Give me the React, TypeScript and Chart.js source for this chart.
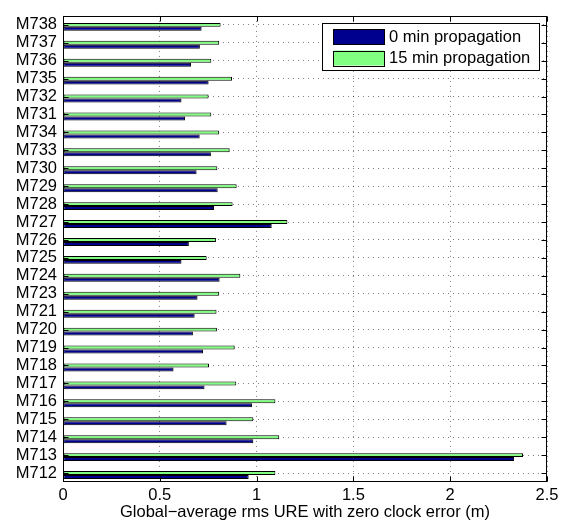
import { useEffect, useRef } from 'react';
import { Chart, registerables } from 'chart.js';

Chart.register(...registerables);

// Categories listed from top to bottom as in the figure
const categories = [
  'M738', 'M737', 'M736', 'M735', 'M732', 'M731', 'M734', 'M733', 'M730',
  'M729', 'M728', 'M727', 'M726', 'M725', 'M724', 'M723', 'M721', 'M720',
  'M719', 'M718', 'M717', 'M716', 'M715', 'M714', 'M713', 'M712',
];

// 0 min propagation (dark blue)
const prop0 = [
  0.716, 0.707, 0.661, 0.752, 0.612, 0.630, 0.706, 0.764, 0.690,
  0.799, 0.780, 1.078, 0.650, 0.612, 0.809, 0.695, 0.680, 0.671,
  0.723, 0.571, 0.731, 0.976, 0.845, 0.983, 2.330, 0.959,
];

// 15 min propagation (light green)
const prop15 = [
  0.814, 0.807, 0.766, 0.873, 0.752, 0.766, 0.807, 0.861, 0.797,
  0.897, 0.876, 1.159, 0.790, 0.742, 0.916, 0.807, 0.793, 0.795,
  0.887, 0.754, 0.895, 1.097, 0.983, 1.117, 2.376, 1.097,
];

// empty slot that keeps the group placement like MATLAB's barh
const spacer = categories.map(() => null);

const xTicks = [0, 0.5, 1, 1.5, 2, 2.5];
const seriesNames = ['0 min propagation', '15 min propagation'];
const seriesColors = ['#00008F', '#80FF80'];
const xTitle = 'Global\u2212average rms URE with zero clock error (m)';

const FONT = '"Liberation Sans", Arial, sans-serif';
const FSIZE = 16.5;

const matlabAxes = {
  id: 'matlabAxes',
  afterDraw(chart: any) {
    const { ctx, chartArea: a, scales } = chart;
    const xs = scales.x;
    const ys = scales.y;
    const L = Math.round(a.left) + 0.5;
    const R = Math.round(a.right) - 0.5;
    const T = Math.round(a.top) + 0.5;
    const B = Math.round(a.bottom) - 0.5;
    ctx.save();
    ctx.strokeStyle = '#000';
    ctx.lineWidth = 1;
    ctx.setLineDash([]);
    ctx.strokeRect(L, T, R - L, B - T);
    ctx.beginPath();
    xTicks.forEach((v) => {
      const px = Math.round(xs.getPixelForValue(v)) + 0.5;
      ctx.moveTo(px, T);
      ctx.lineTo(px, T + 5);
      ctx.moveTo(px, B);
      ctx.lineTo(px, B - 5);
    });
    categories.forEach((_c, i) => {
      const py = Math.round(ys.getPixelForValue(i)) + 0.5;
      ctx.moveTo(L, py);
      ctx.lineTo(L + 5, py);
      ctx.moveTo(R, py);
      ctx.lineTo(R - 5, py);
    });
    ctx.stroke();

    // legend box inside the axes (top right)
    const boxR = Math.round(a.right) - 8;
    const boxW = 217;
    const boxH = 47;
    const boxL = boxR - boxW;
    const boxT = Math.round(a.top) + 7;
    ctx.fillStyle = '#fff';
    ctx.fillRect(boxL + 0.5, boxT + 0.5, boxW, boxH);
    ctx.strokeRect(boxL + 0.5, boxT + 0.5, boxW, boxH);
    ctx.font = `${FSIZE}px ${FONT}`;
    ctx.textBaseline = 'middle';
    ctx.textAlign = 'left';
    seriesNames.forEach((name, i) => {
      const sy = boxT + 6 + i * 21.5;
      ctx.fillStyle = seriesColors[i];
      ctx.fillRect(boxL + 11, sy, 51, 15);
      ctx.strokeRect(boxL + 11.5, Math.round(sy) + 0.5, 51, 15);
      ctx.fillStyle = '#000';
      ctx.fillText(name, boxL + 67, sy + 8);
    });
    ctx.restore();
  },
};

export default function App() {
  const ref = useRef<HTMLCanvasElement | null>(null);

  useEffect(() => {
    document.body.style.margin = '0';
    const canvas = ref.current;
    if (!canvas) return;
    const chart = new Chart(canvas, {
      type: 'bar',
      data: {
        labels: categories,
        datasets: [
          {
            label: '',
            data: spacer,
            backgroundColor: 'rgba(0,0,0,0)',
            borderWidth: 0,
          },
          {
            label: seriesNames[1],
            data: prop15,
            backgroundColor: seriesColors[1],
            borderColor: '#000',
            borderWidth: 1,
            borderSkipped: false,
          },
          {
            label: seriesNames[0],
            data: prop0,
            backgroundColor: seriesColors[0],
            borderColor: '#000',
            borderWidth: 1,
            borderSkipped: false,
          },
        ] as any,
      },
      options: {
        indexAxis: 'y',
        responsive: false,
        animation: false,
        devicePixelRatio: 1,
        datasets: {
          bar: {
            categoryPercentage: 0.664,
            barPercentage: 1,
          },
        } as any,
        layout: {
          padding: { top: 12, right: 22, left: 0, bottom: 0 },
        },
        font: { family: FONT, size: FSIZE } as any,
        plugins: {
          legend: { display: false },
          tooltip: { enabled: false },
          title: { display: false },
        },
        scales: {
          x: {
            type: 'linear',
            min: 0,
            max: 2.5,
            afterFit: (s: any) => {
              s.height = 43;
            },
            ticks: {
              stepSize: 0.5,
              padding: 4,
              color: '#000',
              font: { family: FONT, size: FSIZE },
              maxRotation: 0,
              callback: (v: any) => String(v),
            },
            grid: {
              display: true,
              drawTicks: false,
              color: 'rgba(0,0,0,0.5)',
              lineWidth: 1,
            },
            border: { display: false, dash: [1, 4] },
            title: {
              display: true,
              text: xTitle,
              color: '#000',
              font: { family: FONT, size: FSIZE },
              padding: { top: 0, bottom: 3 },
            },
          },
          y: {
            type: 'category',
            offset: true,
            afterFit: (s: any) => {
              s.width = 63;
            },
            ticks: {
              padding: 6,
              color: '#000',
              font: { family: FONT, size: FSIZE },
              autoSkip: false,
            },
            grid: {
              display: true,
              offset: false,
              drawTicks: false,
              color: 'rgba(0,0,0,0.5)',
              lineWidth: 1,
            },
            border: { display: false, dash: [1, 4] },
          },
        },
      },
      plugins: [matlabAxes],
    } as any);
    return () => chart.destroy();
  }, []);

  return (
    <canvas
      ref={ref}
      width={569}
      height={525}
      style={{ display: 'block', width: 569, height: 525 }}
    />
  );
}
